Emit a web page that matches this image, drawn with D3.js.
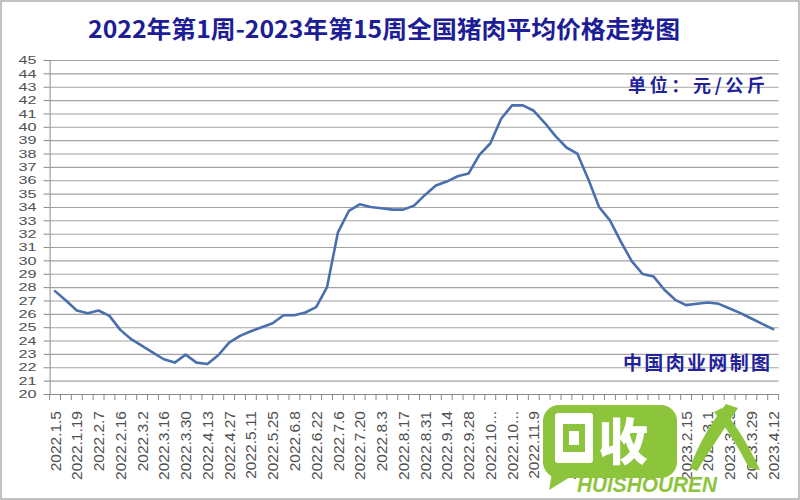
<!DOCTYPE html>
<html><head><meta charset="utf-8">
<script src="https://cdn.jsdelivr.net/npm/d3@7/dist/d3.min.js"></script>
<style>html,body{margin:0;padding:0;background:#fff;}svg{display:block;}</style>
</head><body>
<script>
const titleText = "2022年第1周-2023年第15周全国猪肉平均价格走势图";
const unitText = "单位：元/公斤";
const sourceText = "中国肉业网制图";
const categories = [
 "2022.1.5","2022.1.12","2022.1.19","2022.1.26","2022.2.7","2022.2.9","2022.2.16","2022.2.23",
 "2022.3.2","2022.3.9","2022.3.16","2022.3.23","2022.3.30","2022.4.6","2022.4.13","2022.4.20",
 "2022.4.27","2022.5.4","2022.5.11","2022.5.18","2022.5.25","2022.6.1","2022.6.8","2022.6.15",
 "2022.6.22","2022.6.29","2022.7.6","2022.7.13","2022.7.20","2022.7.27","2022.8.3","2022.8.10",
 "2022.8.17","2022.8.24","2022.8.31","2022.9.7","2022.9.14","2022.9.21","2022.9.28","2022.10.5",
 "2022.10.12","2022.10.19","2022.10.26","2022.11.2","2022.11.9","2022.11.16","2022.11.23","2022.11.30",
 "2022.12.7","2022.12.14","2022.12.21","2022.12.28","2023.1.4","2023.1.11","2023.1.18","2023.1.28",
 "2023.2.1","2023.2.8","2023.2.15","2023.2.22","2023.3.1","2023.3.8","2023.3.15","2023.3.22",
 "2023.3.29","2023.4.5","2023.4.12"];
const prices = [
 27.7,27.0,26.25,26.05,26.25,25.85,24.8,24.1,
 23.6,23.1,22.6,22.35,22.95,22.35,22.25,22.9,
 23.85,24.35,24.7,25.0,25.3,25.9,25.9,26.1,
 26.5,28.0,32.1,33.7,34.2,34.0,33.9,33.8,
 33.8,34.1,34.9,35.6,35.9,36.3,36.5,37.9,
 38.75,40.6,41.6,41.6,41.2,40.3,39.3,38.45,
 38.0,36.1,34.0,33.0,31.4,29.95,28.98,28.8,
 27.8,27.05,26.65,26.75,26.85,26.75,26.4,26.05,
 25.65,25.25,24.85];
const yTicks = d3.range(20, 46, 1);

(function(){
const W = 800, H = 500;
const svg = d3.select("body").append("svg").attr("width", W).attr("height", H);
svg.append("rect").attr("x",0).attr("y",0).attr("width",W).attr("height",H).attr("fill","#fff");
svg.append("rect").attr("x",1).attr("y",1).attr("width",W-2).attr("height",H-2)
  .attr("fill","none").attr("stroke","#9a9a9a").attr("stroke-width",1.2);

const pL = 49.6, pR = 778.6, pT = 60, pB = 394;
const x = d3.scaleBand().domain(categories).range([pL, pR]).padding(0);
const y = d3.scaleLinear().domain([20, 45]).range([pB, pT]);

const axisFont = "'Liberation Sans', Arial, sans-serif";
const labelColor = "#505050";

// gridlines
const grid = svg.append("g").attr("transform", `translate(${pL},0)`)
  .call(d3.axisLeft(y).tickValues(yTicks).tickSize(-(pR-pL)).tickFormat(""));
grid.select(".domain").remove();
grid.selectAll("line").attr("stroke", "#a2a2a2").attr("stroke-width", 1.1);

// y axis
const yAxis = svg.append("g").attr("transform", `translate(${pL},0)`)
  .call(d3.axisLeft(y).tickValues(yTicks).tickSize(6).tickPadding(7).tickFormat(d3.format("d")));
yAxis.select(".domain").attr("stroke", "#8a8a8a");
yAxis.selectAll("line").attr("stroke", "#8a8a8a");
yAxis.selectAll("text").attr("font-family", axisFont).attr("font-size", 11.6).attr("fill", labelColor)
  .attr("textLength", 18).attr("lengthAdjust", "spacingAndGlyphs");

// x axis
const xAxis = svg.append("g").attr("transform", `translate(0,${pB})`)
  .call(d3.axisBottom(x).tickSize(0).tickPadding(0)
    .tickFormat((d, i) => i % 2 ? "" : (d.length >= 10 ? d.slice(0, 7) + "..." : d)));
xAxis.select(".domain").attr("stroke", "#8a8a8a").attr("d", `M${pL},0.5H${pR}`);
xAxis.selectAll("text")
  .attr("font-family", axisFont).attr("font-size", 15.5).attr("fill", labelColor)
  .attr("transform", "rotate(-90)").attr("text-anchor", "end")
  .attr("x", -17).attr("y", 0).attr("dy", "0.36em");
// boundary ticks
const bounds = categories.map(c => x(c)).concat([x(categories[categories.length-1]) + x.bandwidth()]);
svg.append("g").selectAll("line").data(bounds).join("line")
  .attr("x1", d => d).attr("x2", d => d).attr("y1", pB).attr("y2", pB + 6)
  .attr("stroke", "#8a8a8a").attr("stroke-width", 1);

// line
const line = d3.line().x((d, i) => x(categories[i]) + x.bandwidth()/2).y(d => y(d));
svg.append("path").datum(prices).attr("d", line)
  .attr("fill", "none").attr("stroke", "#4a6fae").attr("stroke-width", 2.6)
  .attr("stroke-linejoin", "round").attr("stroke-linecap", "round");

// title
svg.append("text").attr("x", 88).attr("y", 38).text(titleText)
  .attr("font-family", "'Noto Sans CJK SC', sans-serif").attr("font-weight", 700)
  .attr("font-size", 24).attr("fill", "#1d1d96")
  .attr("textLength", 592).attr("lengthAdjust", "spacingAndGlyphs");

svg.append("text").attr("x", 628).attr("y", 92).text(unitText)
  .attr("font-family", "'Noto Sans CJK SC', sans-serif").attr("font-weight", 700)
  .attr("font-size", 18).attr("fill", "#22229a")
  .attr("textLength", 137).attr("lengthAdjust", "spacing");

svg.append("text").attr("x", 623).attr("y", 370).text(sourceText)
  .attr("font-family", "'Noto Sans CJK SC', sans-serif").attr("font-weight", 700)
  .attr("font-size", 19).attr("fill", "#22229a")
  .attr("textLength", 147).attr("lengthAdjust", "spacing");

// watermark
const green = "#8cc43c";
const wm = svg.append("g");
wm.append("rect").attr("x", 543).attr("y", 405).attr("width", 134).attr("height", 73).attr("rx", 16).attr("fill", green);
wm.append("path").attr("d", "M553,468 L549,490 L575,474 Z").attr("fill", green);
wm.append("rect").attr("x", 555).attr("y", 413).attr("width", 38).attr("height", 50).attr("rx", 3).attr("fill", "#fff");
wm.append("rect").attr("x", 563).attr("y", 424).attr("width", 22).attr("height", 28).attr("fill", green);
wm.append("rect").attr("x", 569).attr("y", 431).attr("width", 10).attr("height", 14).attr("fill", "#fff");
wm.append("text").attr("x", 598).attr("y", 460).text("收")
  .attr("font-family", "'Noto Sans CJK SC', sans-serif").attr("font-weight", 900)
  .attr("font-size", 50).attr("fill", "#fff");
wm.append("path").attr("d", "M690,468 C698,445 710,424 726,404 L738,408 C724,430 708,452 697,471 Z").attr("fill", green);
wm.append("path").attr("d", "M714,412 L722,408 C738,428 750,448 760,470 L749,468 C740,450 728,430 714,412 Z").attr("fill", green);
wm.append("text").attr("x", 577).attr("y", 492).text("HUISHOUREN")
  .attr("font-family", "'Liberation Sans', Arial, sans-serif").attr("font-weight", 700).attr("font-style", "italic")
  .attr("font-size", 22).attr("fill", green)
  .attr("textLength", 140).attr("lengthAdjust", "spacingAndGlyphs");
})();
</script>
</body></html>
